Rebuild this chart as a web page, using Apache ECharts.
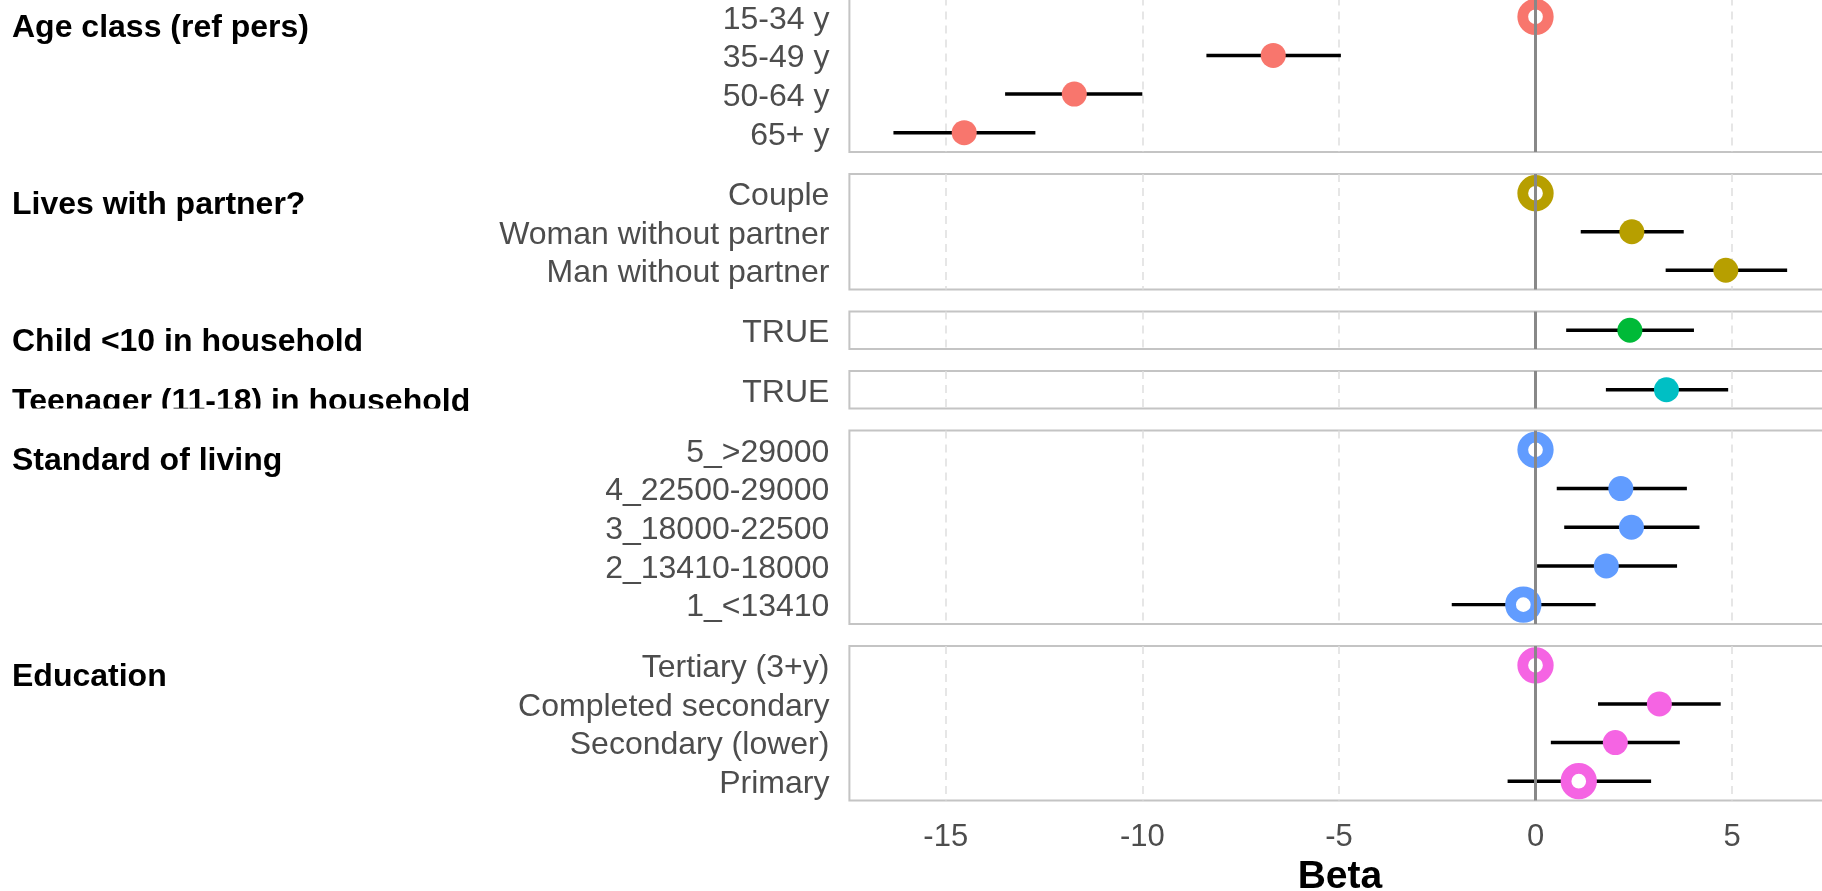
<!DOCTYPE html>
<html>
<head>
<meta charset="utf-8">
<script src="https://cdn.jsdelivr.net/npm/echarts@6/dist/echarts.min.js"></script>
<style>
  html, body { margin: 0; padding: 0; background: #fff; }
  #chart { width: 1822px; height: 891px; }
</style>
</head>
<body>
<div id="chart"></div>
<script>
// facet panels (one per variable), top to bottom
const panels = [
  'Age class (ref pers)',
  'Lives with partner?',
  'Child <10 in household',
  'Teenager (11-18) in household',
  'Standard of living',
  'Education'
];

// levels inside each panel
const levels = [
  ['15-34 y', '35-49 y', '50-64 y', '65+ y'],
  ['Couple', 'Woman without partner', 'Man without partner'],
  ['TRUE'],
  ['TRUE'],
  ['5_>29000', '4_22500-29000', '3_18000-22500', '2_13410-18000', '1_<13410'],
  ['Tertiary (3+y)', 'Completed secondary', 'Secondary (lower)', 'Primary']
];

// estimates and confidence bounds (reference levels = 0)
const beta = [
  [0, -6.67, -11.73, -14.53],
  [0, 2.45, 4.84],
  [2.40],
  [3.33],
  [0, 2.17, 2.44, 1.80, -0.31],
  [0, 3.15, 2.03, 1.10]
];
const ciLow = [
  [0, -8.37, -13.49, -16.33],
  [0, 1.15, 3.31],
  [0.78],
  [1.79],
  [0, 0.54, 0.73, 0.04, -2.13],
  [0, 1.59, 0.39, -0.71]
];
const ciHigh = [
  [0, -4.95, -10.00, -12.72],
  [0, 3.77, 6.40],
  [4.03],
  [4.90],
  [0, 3.85, 4.17, 3.60, 1.53],
  [0, 4.71, 3.67, 2.94]
];

const colors = ['#F8766D', '#B79F00', '#00BA38', '#00BFC4', '#619CFF', '#F564E3'];
const xTicks = [-15, -10, -5, 0, 5];

const FONT = "'Liberation Sans', Arial, Helvetica, sans-serif";
const ROW_H = 39;
const GAP = 22;
const LEFT = 849.4;
const WIDTH = 981;
const X_MIN = -17.45;
const X_MAX = 7.5;

const grids = [], xAxes = [], yAxes = [], series = [], graphics = [];
const panelTops = [];
let panelTop = -2.5;

panels.forEach((name, p) => {
  const n = levels[p].length;
  const h = ROW_H * n - 1.5;
  const last = p === panels.length - 1;
  panelTops.push(panelTop);

  grids.push({
    left: LEFT, top: panelTop, width: WIDTH, height: h,
    outerBoundsMode: 'none', containLabel: false,
    show: true, borderColor: '#c4c4c4', borderWidth: 2, backgroundColor: 'transparent'
  });

  xAxes.push({
    gridIndex: p, type: 'value', min: X_MIN, max: X_MAX,
    axisLine: { show: false },
    axisTick: { show: false, customValues: xTicks },
    splitLine: { show: true, lineStyle: { color: '#dedede', width: 1.5, type: [8, 6] } },
    axisLabel: {
      show: last, customValues: xTicks, margin: 21,
      color: '#4d4d4d', fontSize: 31, fontFamily: FONT
    },
    name: last ? 'Beta' : '',
    nameLocation: 'middle', nameGap: 57,
    nameTextStyle: { color: '#000', fontSize: 39, fontWeight: 'bold', fontFamily: FONT }
  });

  yAxes.push({
    gridIndex: p, type: 'category', data: levels[p], inverse: true,
    axisLine: { show: false }, axisTick: { show: false }, splitLine: { show: false },
    axisLabel: {
      interval: 0, hideOverlap: false, margin: 20,
      formatter: v => '{lv|' + v + '}',
      rich: {
        lv: { padding: [6, 0, 0, 0], color: '#4d4d4d', fontSize: 32, fontFamily: FONT }
      }
    }
  });

  // error bars + zero reference line
  const bars = [];
  levels[p].forEach((lv, i) => {
    if (ciLow[p][i] !== ciHigh[p][i]) bars.push([i, ciLow[p][i], ciHigh[p][i]]);
  });
  series.push({
    type: 'custom', xAxisIndex: p, yAxisIndex: p, silent: true, z: 2,
    encode: { x: [1, 2], y: 0 },
    data: bars,
    renderItem: (params, api) => {
      const a = api.coord([api.value(1), api.value(0)]);
      const b = api.coord([api.value(2), api.value(0)]);
      return {
        type: 'line',
        shape: { x1: a[0], y1: a[1], x2: b[0], y2: b[1] },
        style: { stroke: '#000', lineWidth: 3.4 }
      };
    },
    markLine: {
      silent: true, symbol: 'none', label: { show: false },
      lineStyle: { color: '#888', width: 3, type: 'solid', opacity: 1 },
      data: [{ xAxis: 0 }]
    }
  });

  // points: hollow when the interval includes zero (incl. reference level)
  const pts = levels[p].map((lv, i) => {
    const hollow = ciLow[p][i] <= 0 && ciHigh[p][i] >= 0;
    return hollow
      ? { value: [beta[p][i], lv], symbolSize: 25.5,
          itemStyle: { color: '#fff', borderColor: colors[p], borderWidth: 10.8, opacity: 1 } }
      : { value: [beta[p][i], lv], symbolSize: 25,
          itemStyle: { color: colors[p], borderWidth: 0, opacity: 1 } };
  });
  series.push({
    type: 'scatter', xAxisIndex: p, yAxisIndex: p, silent: true, z: 4,
    symbol: 'circle', data: pts, itemStyle: { opacity: 1 }, emphasis: { disabled: true }
  });

  // facet strip label on the left
  graphics.push({
    type: 'text', left: 12, top: panelTop + 27.3 - 12.5, z: 10,
    style: { text: name, fill: '#000', font: 'bold 32px ' + FONT }
  });

  panelTop += h + GAP;
});

// strip text is clipped at its panel bottom (teenager label)
graphics.push({
  type: 'rect', z: 20, silent: true,
  shape: { x: 0, y: panelTops[3] + ROW_H - 1.5, width: 440, height: GAP - 1 },
  style: { fill: '#fff' }
});

const chart = echarts.init(document.getElementById('chart'), null, { renderer: 'canvas' });
chart.setOption({
  animation: false,
  backgroundColor: '#fff',
  grid: grids,
  xAxis: xAxes,
  yAxis: yAxes,
  series: series,
  graphic: graphics
});
</script>
</body>
</html>
